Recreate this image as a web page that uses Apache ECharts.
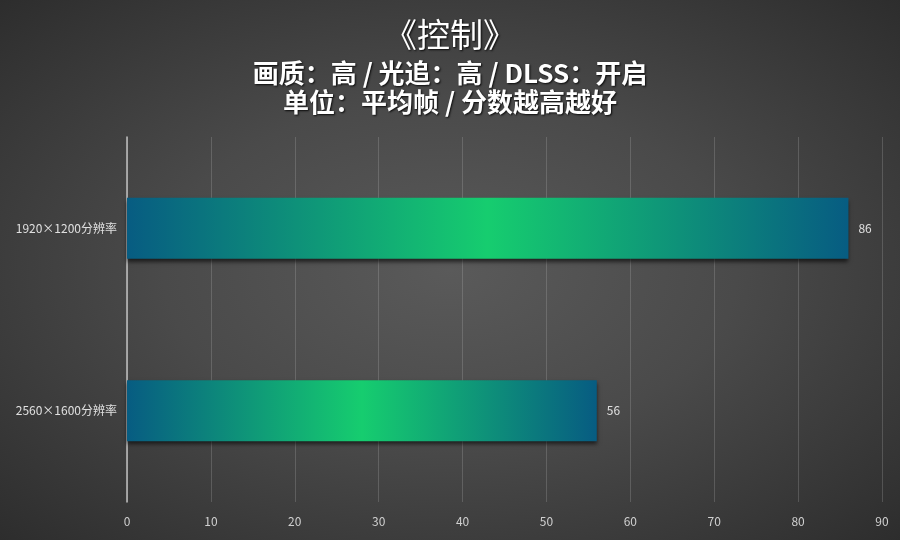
<!DOCTYPE html>
<html>
<head>
<meta charset="utf-8">
<script src="https://cdn.jsdelivr.net/npm/echarts@6/dist/echarts.min.js"></script>
<style>
html,body{margin:0;padding:0;width:900px;height:540px;overflow:hidden;}
body{background:radial-gradient(ellipse at 50% 50%, #5a5a5a 0%, #4a4a4a 45%, #2d2d2d 100%);}
#c{width:900px;height:540px;}
</style>
</head>
<body>
<div id="c"></div>
<script>
var titleText = '《控制》';
var subLine1 = '画质：高 / 光追：高 / DLSS：开启';
var subLine2 = '单位：平均帧 / 分数越高越好';
var categories = ['2560×1600分辨率', '1920×1200分辨率'];
var values = [56, 86];
var xTicks = { min: 0, max: 90, interval: 10 };

var chart = echarts.init(document.getElementById('c'), null, { renderer: 'canvas' });
var font = '"Noto Sans CJK SC", "Noto Sans", sans-serif';
var shadow = { textShadowColor: 'rgba(0,0,0,0.85)', textShadowBlur: 2, textShadowOffsetX: 1, textShadowOffsetY: 1 };
chart.setOption({
  backgroundColor: 'transparent',
  title: [
    { text: titleText, left: 'center', top: 13, textStyle: Object.assign({ color: '#fff', fontSize: 33, fontWeight: 'normal', fontFamily: font }, shadow) },
    { text: subLine1, left: 'center', top: 55, textStyle: Object.assign({ color: '#fff', fontSize: 26, fontWeight: 'bold', fontFamily: font }, shadow) },
    { text: subLine2, left: 'center', top: 84, textStyle: Object.assign({ color: '#fff', fontSize: 26, fontWeight: 'bold', fontFamily: font }, shadow) }
  ],
  grid: { left: 127, right: 18, top: 137, bottom: 38, containLabel: false },
  xAxis: {
    type: 'value', min: xTicks.min, max: xTicks.max, interval: xTicks.interval,
    axisLine: { show: false }, axisTick: { show: false },
    axisLabel: { color: '#d0d0d0', fontSize: 12, fontFamily: font, margin: 13 },
    splitLine: { show: true, lineStyle: { color: 'rgba(200,200,200,0.22)', width: 1 } }
  },
  yAxis: {
    type: 'category', data: categories,
    axisLine: { show: true, lineStyle: { color: '#c0c0c0', width: 1.5 } },
    axisTick: { show: false },
    axisLabel: { color: '#e0e0e0', fontSize: 12, fontFamily: font, margin: 10 }
  },
  series: [{
    type: 'bar', data: values, barWidth: 61,
    itemStyle: {
      color: new echarts.graphic.LinearGradient(0, 0, 1, 0, [
        { offset: 0, color: '#075c82' },
        { offset: 0.5, color: '#16cd6f' },
        { offset: 1, color: '#075c82' }
      ]),
      shadowColor: 'rgba(0,0,0,0.6)', shadowBlur: 4, shadowOffsetY: 3
    },
    label: { show: true, position: 'right', distance: 10, color: '#e0e0e0', fontSize: 12, fontFamily: font }
  }]
});
</script>
</body>
</html>
